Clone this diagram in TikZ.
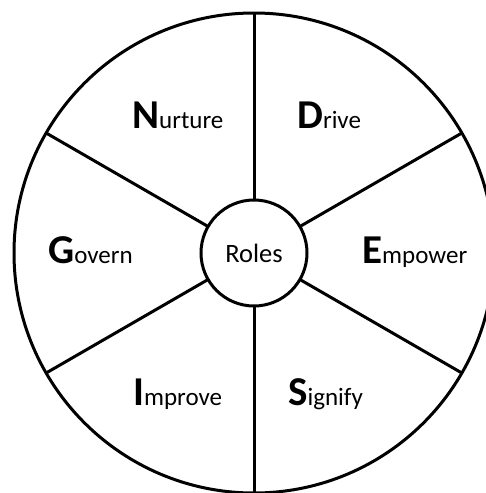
\documentclass[tikz,border=0pt]{standalone}
\usepackage{fontspec}
\setmainfont{Carlito}
\usetikzlibrary{positioning, calc}

\newcommand{\firstletter}[1]{{\fontsize{41}{44}\selectfont\bfseries #1}}

\begin{document}
\begin{tikzpicture}[
        x=1pt, y=-1pt,
        ring/.style={draw, circle, line width=3pt, inner sep=0pt, outer sep=0pt},
        spoke/.style={line width=3pt},
        role/.style={anchor=base west, inner sep=0pt, font=\fontsize{25}{30}\selectfont}
    ]
        \useasboundingbox (0,0) rectangle (486,493);

        % Circles
        \node[ring, minimum size=480pt] (wheel) at (254,253) {};
        \node[ring, minimum size=106pt, font=\fontsize{26.5}{30}\selectfont] (roles) at (254,253) {Roles};

        % Spokes
        \foreach \a in {90, 30, -30, -90, -150, 150}
            \draw[spoke] (roles.\a) -- (wheel.\a);

        % Labels
        \node[role] (nurture) at (132,128) {\firstletter{N}urture};
        \node[role] (drive)   at (297,128) {\firstletter{D}rive};
        \node[role] (govern)  at (48,263)  {\firstletter{G}overn};
        \node[role] (empower) at (362,263) {\firstletter{E}mpower};
        \node[role] (improve) at (133,405) {\firstletter{I}mprove};
        \node[role] (signify) at (288,405) {\firstletter{S}ignify};
    \end{tikzpicture}
\end{document}
